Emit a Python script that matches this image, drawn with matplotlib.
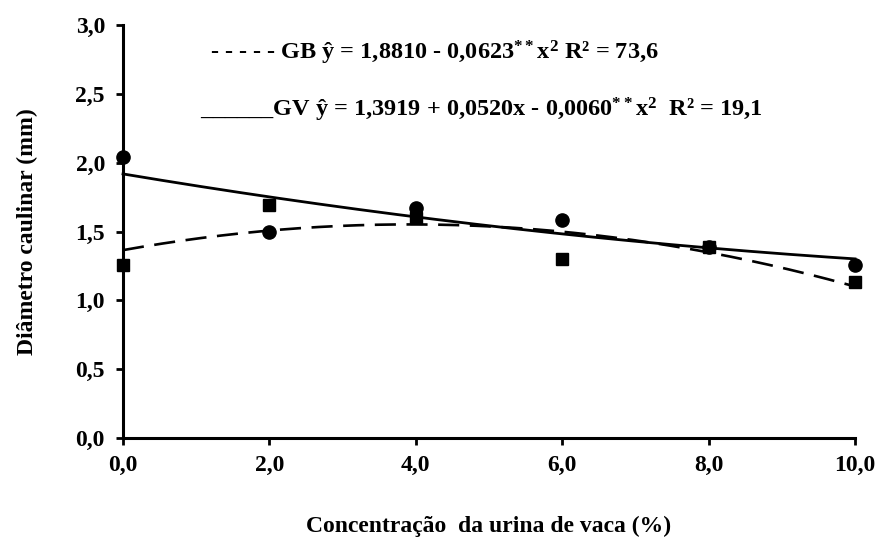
import numpy as np
import matplotlib
matplotlib.use("Agg")
import matplotlib.pyplot as plt

plt.rcParams["font.family"] = ["Liberation Serif", "DejaVu Serif"]
plt.rcParams["font.weight"] = "bold"
plt.rcParams["mathtext.fontset"] = "custom"
plt.rcParams["mathtext.rm"] = "Liberation Serif:bold"
plt.rcParams["mathtext.bf"] = "Liberation Serif:bold"
plt.rcParams["mathtext.it"] = "Liberation Serif:bold"

# Urine concentration (%) and stem diameter (mm) per group
concentracao = [0, 2, 4, 6, 8, 10]
gb_diametro = [1.26, 1.69, 1.60, 1.30, 1.39, 1.13]   # squares, dashed fit
gv_diametro = [2.04, 1.50, 1.67, 1.58, 1.39, 1.26]   # circles, solid fit

x_ticks = [0, 2, 4, 6, 8, 10]
x_labels = ["0,0", "2,0", "4,0", "6,0", "8,0", "10,0"]
y_ticks = [0, 0.5, 1.0, 1.5, 2.0, 2.5, 3.0]
y_labels = ["0,0", "0,5", "1,0", "1,5", "2,0", "2,5", "3,0"]

eq_gb = r"- - - - - GB ŷ = 1,8810 - 0,0623$^{**}$x$^{2}$ R² = 73,6"
eq_gv = r"______GV ŷ = 1,3919 + 0,0520x - 0,0060$^{**}$x$^{2}$  R² = 19,1"

fig = plt.figure(figsize=(8.8, 5.5), dpi=100)
ax = fig.add_axes([123 / 880, 112 / 550, 732 / 880, 413 / 550])

# quadratic regression curves fitted to each group
xs = np.linspace(0, 10, 300)
coef_gb = np.polyfit(concentracao, gb_diametro, 2)
coef_gv = np.polyfit(concentracao, gv_diametro, 2)
ax.plot(xs, np.polyval(coef_gb, xs), color="black", lw=1.9,
        dashes=(8, 4), clip_on=False, zorder=2)
ax.plot(xs, np.polyval(coef_gv, xs), color="black", lw=2.0,
        clip_on=False, zorder=2)

ax.plot(concentracao, gb_diametro, linestyle="none", marker="s",
        markersize=9, color="black", clip_on=False, zorder=3)
ax.plot(concentracao, gv_diametro, linestyle="none", marker="o",
        markersize=9.5, color="black", clip_on=False, zorder=3)

ax.set_xlim(0, 10)
ax.set_ylim(0, 3)
ax.set_xticks(x_ticks, x_labels)
ax.set_yticks(y_ticks, y_labels)

for side in ("top", "right"):
    ax.spines[side].set_visible(False)
for side in ("left", "bottom"):
    ax.spines[side].set_linewidth(2.2)
ax.tick_params(axis="both", direction="out", length=5, width=2,
               labelsize=17)
ax.tick_params(axis="y", pad=8)
ax.tick_params(axis="x", pad=7)

ax.set_xlabel("Concentração  da urina de vaca (%)", fontsize=17,
              fontweight="bold", labelpad=29)
ax.set_ylabel("Diâmetro caulinar (mm)", fontsize=17,
              fontweight="bold", labelpad=27)

fig.text(210 / 880, 1 - 53 / 550, eq_gb, fontsize=17.5, fontweight="bold",
         ha="left", va="center")
fig.text(200 / 880, 1 - 110 / 550, eq_gv, fontsize=17.5, fontweight="bold",
         ha="left", va="center")

fig.savefig("out.png", dpi=100, facecolor="white")
